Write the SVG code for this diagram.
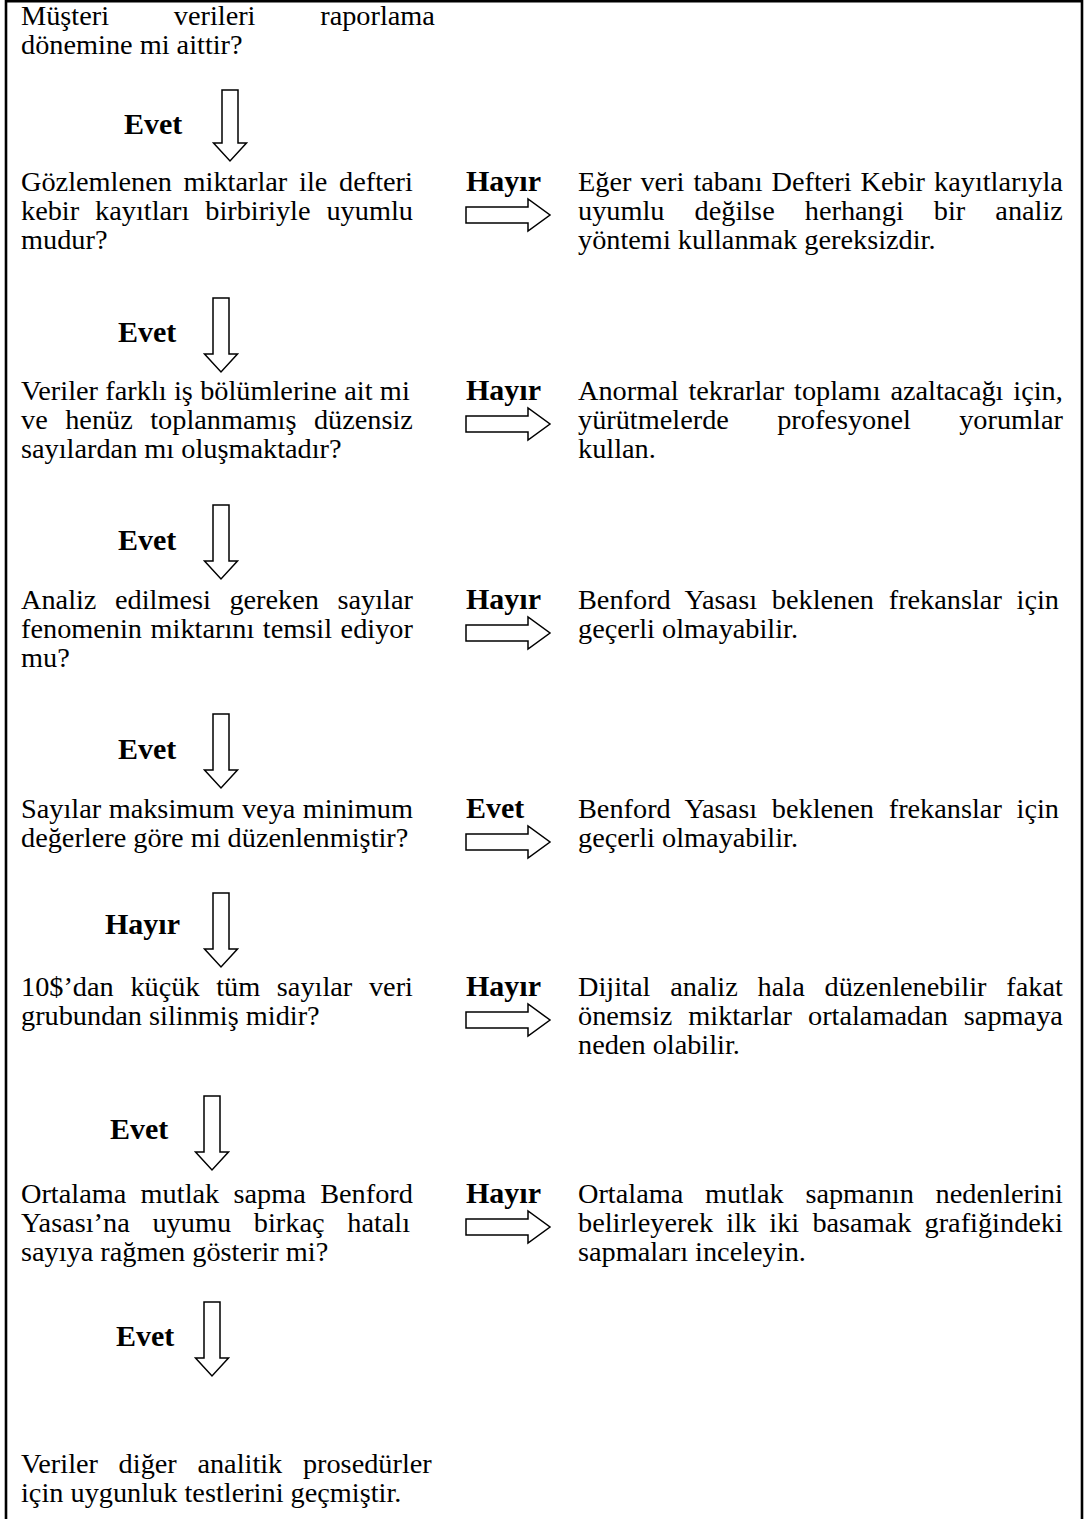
<svg xmlns="http://www.w3.org/2000/svg" width="1088" height="1519" viewBox="0 0 1088 1519">
<style>
text{font-family:"Liberation Serif","Times New Roman",serif;font-size:28.3px;fill:#000}
.b{font-weight:bold;font-size:30px}
.arr{fill:#fff;stroke:#000;stroke-width:1.5;stroke-linejoin:miter}
.frame{fill:none;stroke:#000;stroke-width:2.6}
</style>
<rect width="1088" height="1519" fill="#fff"/>
<path class="frame" d="M6,1519 V1.3 H1082 V1519"/>

<g id="q1">
<text x="21" y="25" word-spacing="57.68">Müşteri verileri raporlama</text>
<text x="21" y="54">dönemine mi aittir?</text>
</g>
<g id="q2">
<text x="21" y="191" word-spacing="4.66">Gözlemlenen miktarlar ile defteri</text>
<text x="21" y="220" word-spacing="8.83">kebir kayıtları birbiriyle uyumlu</text>
<text x="21" y="249">mudur?</text>
</g>
<g id="r2">
<text x="578" y="191" word-spacing="1.91">Eğer veri tabanı Defteri Kebir kayıtlarıyla</text>
<text x="578" y="220" word-spacing="23">uyumlu değilse herhangi bir analiz</text>
<text x="578" y="249">yöntemi kullanmak gereksizdir.</text>
</g>
<g id="q3">
<text x="21" y="400" word-spacing="0.27">Veriler farklı iş bölümlerine ait mi</text>
<text x="21" y="429" word-spacing="10.41">ve henüz toplanmamış düzensiz</text>
<text x="21" y="458">sayılardan mı oluşmaktadır?</text>
</g>
<g id="r3">
<text x="578" y="400" word-spacing="2.77">Anormal tekrarlar toplamı azaltacağı için,</text>
<text x="578" y="429" word-spacing="41.3">yürütmelerde profesyonel yorumlar</text>
<text x="578" y="458">kullan.</text>
</g>
<g id="q4">
<text x="21" y="609" word-spacing="11.47">Analiz edilmesi gereken sayılar</text>
<text x="21" y="638" word-spacing="1.49">fenomenin miktarını temsil ediyor</text>
<text x="21" y="667">mu?</text>
</g>
<g id="r4">
<text x="578" y="609" word-spacing="7.69">Benford Yasası beklenen frekanslar için</text>
<text x="578" y="638">geçerli olmayabilir.</text>
</g>
<g id="q5">
<text x="21" y="818" word-spacing="0.43">Sayılar maksimum veya minimum</text>
<text x="21" y="847">değerlere göre mi düzenlenmiştir?</text>
</g>
<g id="r5">
<text x="578" y="818" word-spacing="7.69">Benford Yasası beklenen frekanslar için</text>
<text x="578" y="847">geçerli olmayabilir.</text>
</g>
<g id="q6">
<text x="21" y="996" word-spacing="9.58">10$’dan küçük tüm sayılar veri</text>
<text x="21" y="1025">grubundan silinmiş midir?</text>
</g>
<g id="r6">
<text x="578" y="996" word-spacing="12.79">Dijital analiz hala düzenlenebilir fakat</text>
<text x="578" y="1025" word-spacing="8.93">önemsiz miktarlar ortalamadan sapmaya</text>
<text x="578" y="1054">neden olabilir.</text>
</g>
<g id="q7">
<text x="21" y="1203" word-spacing="7.27">Ortalama mutlak sapma Benford</text>
<text x="21" y="1232" word-spacing="15.66">Yasası’na uyumu birkaç hatalı</text>
<text x="21" y="1261">sayıya rağmen gösterir mi?</text>
</g>
<g id="r7">
<text x="578" y="1203" word-spacing="14.69">Ortalama mutlak sapmanın nedenlerini</text>
<text x="578" y="1232" word-spacing="6.1">belirleyerek ilk iki basamak grafiğindeki</text>
<text x="578" y="1261">sapmaları inceleyin.</text>
</g>
<g id="q8">
<text x="21" y="1473" word-spacing="13.56">Veriler diğer analitik prosedürler</text>
<text x="21" y="1502">için uygunluk testlerini geçmiştir.</text>
</g>

<g id="connectors">
<polygon class="arr" points="222,90 238,90 238,143 246.5,143 230,161 213.5,143 222,143"/>
<polygon class="arr" points="213,298 229,298 229,354 237.5,354 221,372 204.5,354 213,354"/>
<polygon class="arr" points="213,505 229,505 229,561 237.5,561 221,579 204.5,561 213,561"/>
<polygon class="arr" points="213,714 229,714 229,770 237.5,770 221,788 204.5,770 213,770"/>
<polygon class="arr" points="213,893 229,893 229,949 237.5,949 221,967 204.5,949 213,949"/>
<polygon class="arr" points="204,1096 220,1096 220,1152 228.5,1152 212,1170 195.5,1152 204,1152"/>
<polygon class="arr" points="204,1302 220,1302 220,1358 228.5,1358 212,1376 195.5,1358 204,1358"/>
<polygon class="arr" points="466,207 528,207 528,199 550,215 528,231 528,223 466,223"/>
<polygon class="arr" points="466,416 528,416 528,408 550,424 528,440 528,432 466,432"/>
<polygon class="arr" points="466,625 528,625 528,617 550,633 528,649 528,641 466,641"/>
<polygon class="arr" points="466,834 528,834 528,826 550,842 528,858 528,850 466,850"/>
<polygon class="arr" points="466,1012 528,1012 528,1004 550,1020 528,1036 528,1028 466,1028"/>
<polygon class="arr" points="466,1219 528,1219 528,1211 550,1227 528,1243 528,1235 466,1235"/>
<text class="b" x="124" y="134">Evet</text>
<text class="b" x="118" y="342">Evet</text>
<text class="b" x="118" y="550">Evet</text>
<text class="b" x="118" y="759">Evet</text>
<text class="b" x="105" y="934">Hayır</text>
<text class="b" x="110" y="1139">Evet</text>
<text class="b" x="116" y="1346">Evet</text>
<text class="b" x="466" y="191">Hayır</text>
<text class="b" x="466" y="400">Hayır</text>
<text class="b" x="466" y="609">Hayır</text>
<text class="b" x="466" y="818">Evet</text>
<text class="b" x="466" y="996">Hayır</text>
<text class="b" x="466" y="1203">Hayır</text>
</g>
</svg>
